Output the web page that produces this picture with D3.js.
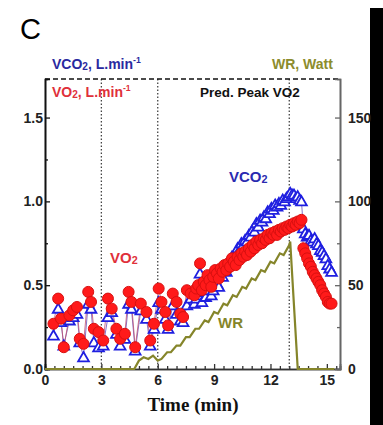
<!DOCTYPE html>
<html>
<head>
<meta charset="utf-8">
<script src="https://cdn.jsdelivr.net/npm/d3@7"></script>
<style>
  body { margin: 0; background: #fff; }
  text { font-family: Arial, "Liberation Sans", sans-serif; }
</style>
</head>
<body>
<svg width="383" height="425"></svg>
<script>
// Sample times (min)
const times = [0.45, 0.7, 0.85, 1.0, 1.3, 1.5, 1.7, 1.85, 2.05, 2.3, 2.45, 2.6, 2.85, 3.1, 3.35, 3.55, 3.8, 4.0, 4.25, 4.45, 4.6, 4.8,
    5.1, 5.4, 5.6, 5.8, 6.05, 6.2, 6.4, 6.55, 6.8, 7.0, 7.2, 7.35, 7.55, 7.75,
    7.95, 8.05, 8.15, 8.25, 8.35, 8.45, 8.55, 8.65, 8.75, 8.85, 8.95, 9.05, 9.15, 9.25, 9.35, 9.45, 9.55, 9.65, 9.75, 9.85, 9.95,
    10.05, 10.15, 10.25, 10.35, 10.45, 10.55, 10.65, 10.75, 10.85, 10.95, 11.05, 11.15, 11.25, 11.35, 11.45, 11.55, 11.65, 11.75, 11.85, 11.95,
    12.05, 12.15, 12.25, 12.35, 12.45, 12.55, 12.65, 12.75, 12.85, 12.95, 13.05, 13.15, 13.25, 13.35, 13.45, 13.55, 13.65,
    13.75, 13.85, 13.95, 14.05, 14.15, 14.25, 14.35, 14.45, 14.55, 14.65, 14.75, 14.85, 14.95, 15.05, 15.15, 15.25];

// VO2, L/min
const vo2 = [0.27, 0.42, 0.30, 0.13, 0.32, 0.35, 0.37, 0.18, 0.15, 0.46, 0.40, 0.24, 0.22, 0.17, 0.42, 0.36, 0.24, 0.18, 0.21, 0.46, 0.40, 0.13,
    0.39, 0.34, 0.17, 0.27, 0.48, 0.40, 0.34, 0.26, 0.45, 0.40, 0.33, 0.31, 0.47, 0.45,
    0.44, 0.48, 0.50, 0.63, 0.47, 0.52, 0.50, 0.56, 0.53, 0.49, 0.55, 0.59, 0.57, 0.54, 0.60, 0.58, 0.62, 0.59, 0.63, 0.61, 0.66,
    0.64, 0.62, 0.67, 0.65, 0.69, 0.67, 0.70, 0.68, 0.72, 0.70, 0.74, 0.72, 0.76, 0.74, 0.77, 0.75, 0.78, 0.77, 0.80, 0.78,
    0.81, 0.80, 0.82, 0.80, 0.83, 0.82, 0.84, 0.83, 0.85, 0.84, 0.86, 0.85, 0.87, 0.86, 0.88, 0.87, 0.89,
    0.72, 0.69, 0.66, 0.63, 0.61, 0.58, 0.56, 0.54, 0.52, 0.50, 0.47, 0.45, 0.43, 0.40, 0.39, 0.39];

// VCO2, L/min
const vco2 = [0.20, 0.36, 0.28, 0.14, 0.29, 0.31, 0.33, 0.16, 0.07, 0.39, 0.36, 0.16, 0.13, 0.14, 0.31, 0.34, 0.21, 0.14, 0.18, 0.39, 0.36, 0.11,
    0.35, 0.30, 0.14, 0.24, 0.40, 0.36, 0.30, 0.24, 0.38, 0.33, 0.29, 0.28, 0.38, 0.42,
    0.39, 0.42, 0.44, 0.57, 0.40, 0.46, 0.43, 0.50, 0.47, 0.44, 0.47, 0.52, 0.51, 0.49, 0.56, 0.55, 0.60, 0.58, 0.63, 0.62, 0.67,
    0.66, 0.68, 0.72, 0.71, 0.75, 0.74, 0.77, 0.76, 0.80, 0.79, 0.83, 0.82, 0.87, 0.85, 0.89, 0.88, 0.91, 0.90, 0.94, 0.93,
    0.96, 0.95, 0.98, 0.97, 0.99, 0.98, 1.01, 1.00, 1.02, 1.03, 1.05, 1.04, 1.04, 1.02, 1.03, 1.01, 1.00,
    0.84, 0.81, 0.79, 0.80, 0.77, 0.76, 0.78, 0.75, 0.74, 0.71, 0.70, 0.68, 0.66, 0.62, 0.60, 0.58];

// Work rate (Watt) as time/value pairs
const wrTimes = [0, 4.75, 5.0, 5.25, 5.5, 5.75, 6.0, 6.2, 6.5, 6.7, 7.0, 7.2, 7.5, 7.7, 8.0, 8.2, 8.5, 8.7, 9.0, 9.2, 9.5, 9.7,
    10.0, 10.2, 10.5, 10.7, 11.0, 11.2, 11.5, 11.7, 12.0, 12.2, 12.5, 12.7, 13.0, 13.05, 13.45, 15.4];
const wrValues = [0, 0, 5, 7, 6, 8, 5, 6, 10, 10, 14, 14, 19, 19, 24, 24, 29, 28, 34, 33, 39, 38,
    44, 43, 49, 48, 54, 53, 59, 58, 64, 63, 69, 68, 74, 76, 0, 0];

const phaseLines = [3, 6, 13];
const predPeakVO2 = 1.73;
const xTicks = [0, 3, 6, 9, 12, 15];
const yTicks = [0, 0.5, 1.0, 1.5];
const wrTicks = [0, 50, 100, 150];

const svg = d3.select("svg");

const x = d3.scaleLinear().domain([0, 15.7]).range([45, 340]);
const y = d3.scaleLinear().domain([0, predPeakVO2]).range([369, 79]);
const yWR = d3.scaleLinear().domain([0, predPeakVO2 * 100]).range([369, 79]);

const olive = "#85852a";

// Black strip on the right edge
svg.append("rect")
    .attr("x", 370).attr("y", 8)
    .attr("width", 13).attr("height", 417)
    .attr("fill", "#000");

// Panel letter
svg.append("text")
    .attr("x", 20).attr("y", 39)
    .attr("font-size", 29)
    .text("C");

// Phase separators
svg.append("g")
    .selectAll("line")
    .data(phaseLines)
    .enter()
    .append("line")
    .attr("x1", (d) => x(d)).attr("x2", (d) => x(d))
    .attr("y1", y(predPeakVO2)).attr("y2", y(0))
    .attr("stroke", "#444")
    .attr("stroke-width", 1.3)
    .attr("stroke-dasharray", "1.5,2");

// Predicted peak VO2 line
svg.append("line")
    .attr("x1", x(0)).attr("x2", x(15.7))
    .attr("y1", y(predPeakVO2)).attr("y2", y(predPeakVO2))
    .attr("stroke", "#111")
    .attr("stroke-width", 1.4)
    .attr("stroke-dasharray", "5,3");

// Axes
const xAxis = d3.axisBottom(x).tickValues(xTicks).tickSize(-5).tickFormat(d3.format("d"));
const xMinor = d3.axisBottom(x).tickValues(d3.range(0.5, 15.6, 0.5).filter((d) => d % 3 !== 0)).tickSize(-3).tickFormat("");
const yAxis = d3.axisLeft(y).tickValues(yTicks).tickSize(-5).tickFormat(d3.format(".1f"));
const yMinor = d3.axisLeft(y).tickValues([0.25, 0.75, 1.25]).tickSize(-3).tickFormat("");
const wrAxis = d3.axisRight(yWR).tickValues(wrTicks).tickSize(-5).tickFormat(d3.format("d"));
const wrMinor = d3.axisRight(yWR).tickValues([25, 75, 125]).tickSize(-3).tickFormat("");

function styleAxis(g, color) {
    g.select(".domain").attr("stroke", color).attr("stroke-width", 1.6);
    g.selectAll(".tick line").attr("stroke", color).attr("stroke-width", 1.3);
    g.selectAll(".tick text")
        .attr("fill", "#222")
        .attr("font-size", 14)
        .attr("font-weight", "bold");
}

svg.append("g").attr("transform", "translate(0,369)").call(xMinor).call((g) => styleAxis(g, "#333"));
svg.append("g").attr("transform", "translate(0,369)").call(xAxis).call((g) => styleAxis(g, "#333"))
    .selectAll(".tick text").attr("dy", "0.95em");
svg.append("g").attr("transform", "translate(45,0)").call(yMinor).call((g) => styleAxis(g, "#111"));
svg.append("g").attr("transform", "translate(45,0)").call(yAxis).call((g) => styleAxis(g, "#111"))
    .selectAll(".tick text").attr("x", -2);
svg.append("g").attr("transform", "translate(340,0)").call(wrMinor).call((g) => styleAxis(g, "#666"));
svg.append("g").attr("transform", "translate(340,0)").call(wrAxis).call((g) => styleAxis(g, "#666"))
    .selectAll(".tick text").attr("x", 8);

// Work rate line
const wrData = wrTimes.map((t, i) => ({ t: t, w: wrValues[i] }));
svg.append("path")
    .datum(wrData)
    .attr("fill", "none")
    .attr("stroke", olive)
    .attr("stroke-width", 2.2)
    .attr("d", d3.line().x((d) => x(d.t)).y((d) => yWR(d.w)));

// Gas exchange series
const gas = times.map((t, i) => ({ t: t, vo2: vo2[i], vco2: vco2[i] }));

svg.append("path")
    .datum(gas)
    .attr("fill", "none")
    .attr("stroke", "#6a4fb8")
    .attr("stroke-width", 0.8)
    .attr("d", d3.line().x((d) => x(d.t)).y((d) => y(d.vco2)));

svg.append("path")
    .datum(gas)
    .attr("fill", "none")
    .attr("stroke", "#c05070")
    .attr("stroke-width", 0.8)
    .attr("d", d3.line().x((d) => x(d.t)).y((d) => y(d.vo2)));

svg.append("g")
    .selectAll("path")
    .data(gas)
    .enter()
    .append("path")
    .attr("d", d3.symbol(d3.symbolTriangle, 50))
    .attr("transform", (d) => `translate(${x(d.t)}, ${y(d.vco2) + 1})`)
    .attr("fill", "#fff")
    .attr("stroke", "#1f1fe0")
    .attr("stroke-width", 1.8);

svg.append("g")
    .selectAll("circle")
    .data(gas)
    .enter()
    .append("circle")
    .attr("cx", (d) => x(d.t))
    .attr("cy", (d) => y(d.vo2))
    .attr("r", 5.5)
    .attr("fill", "#ff1a1a")
    .attr("stroke", "#d81010")
    .attr("stroke-width", 1);

// Labels
function label(parts, px, py, color, size) {
    const t = svg.append("text")
        .attr("x", px).attr("y", py)
        .attr("fill", color)
        .attr("font-size", size)
        .attr("font-weight", "bold");
    parts.forEach((p) => {
        const s = t.append("tspan").text(p.s);
        if (p.sub) s.attr("font-size", size * 0.72).attr("dy", 1);
        if (p.sup) s.attr("font-size", size * 0.62).attr("dy", -6);
        if (p.back) s.attr("dy", p.back);
    });
}

label([{ s: "VCO" }, { s: "2", sub: true }, { s: ", L.min", back: -1 }, { s: "-1", sup: true }], 52, 69, "#2a2aa0", 14);
label([{ s: "VO" }, { s: "2", sub: true }, { s: ", L.min", back: -1 }, { s: "-1", sup: true }], 52, 97, "#e0303a", 14);
label([{ s: "WR, Watt" }], 272, 69, "#8c8c2c", 14);
label([{ s: "Pred. Peak VO2" }], 200, 97, "#111", 13.5);
label([{ s: "VO" }, { s: "2", sub: true }], 110, 263, "#e0303a", 15);
label([{ s: "VCO" }, { s: "2", sub: true }], 229, 182, "#2a2ab0", 15);
label([{ s: "WR" }], 218, 328, olive, 15);

svg.append("text")
    .attr("x", 193).attr("y", 411)
    .attr("text-anchor", "middle")
    .style("font-family", "'Times New Roman', 'Liberation Serif', serif")
    .attr("font-weight", "bold")
    .attr("font-size", 19)
    .attr("fill", "#111")
    .text("Time (min)");
</script>
</body>
</html>
